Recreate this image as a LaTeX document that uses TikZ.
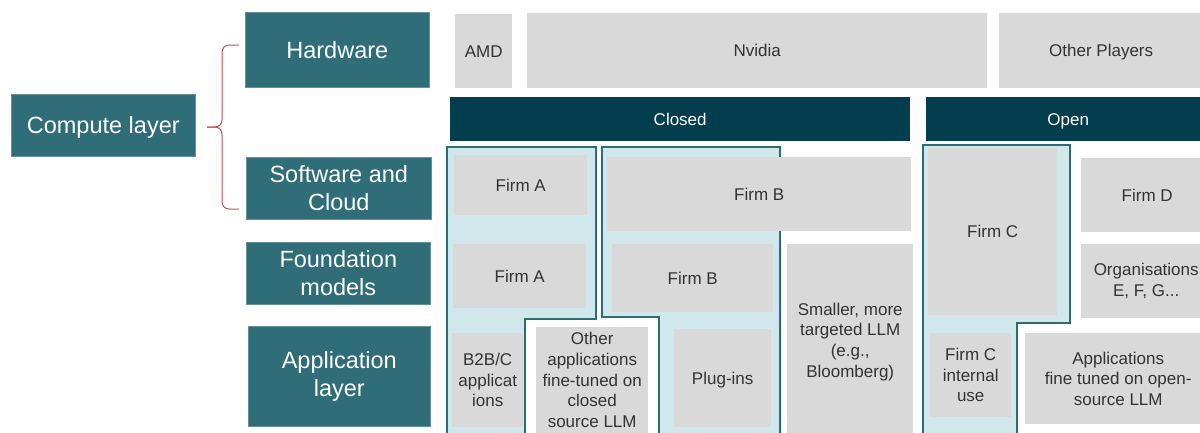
\documentclass[tikz,border=0pt]{standalone}
\usepackage{fontspec}
\setmainfont{Liberation Sans}
\definecolor{cteal}{HTML}{2F6E78}
\definecolor{cdark}{HTML}{023E4D}
\definecolor{cgray}{HTML}{D9D9D9}
\definecolor{clight}{HTML}{D0E8EC}
\definecolor{coutl}{HTML}{2E6B74}
\definecolor{cbrace}{HTML}{C0504D}
\definecolor{ctext}{HTML}{333333}
\begin{document}
\begin{tikzpicture}[x=1pt,y=-1pt,
  tealbox/.style={fill=cteal, draw=cteal!75!white, line width=0.6pt, text=white, inner sep=0pt, align=center, font=\fontsize{23.5}{27.5}\selectfont, anchor=north west},
  gbox/.style={fill=cgray, inner sep=0pt, align=center, text=ctext, font=\fontsize{17}{20.7}\selectfont, anchor=north west},
  barbox/.style={fill=cdark, text=white, inner sep=0pt, align=center, font=\fontsize{17}{20.5}\selectfont, anchor=north west},
  nodepth/.style={text depth=0pt},
  region/.style={fill=clight, draw=coutl, line width=2.4pt, line join=miter},
  bracepath/.style={draw=cbrace, line width=1pt, rounded corners=7pt}]
\useasboundingbox (0,0) rectangle (1200,432);
\clip (0,0) rectangle (1200,432);
% left labels
\node[tealbox, nodepth, minimum width=184, minimum height=62] (compute) at (11,94) {Compute layer};
\node[tealbox, minimum width=184, minimum height=75] (hw) at (245,12) {Hardware};
\node[tealbox, minimum width=185, minimum height=62] (sw) at (246,157) {Software and\\Cloud};
\node[tealbox, minimum width=184, minimum height=62] (fm) at (246,242) {Foundation\\models};
\node[tealbox, minimum width=182, minimum height=100] (app) at (248,326) {Application\\layer};
% brace
\draw[bracepath] (239,45) -- (222,45) -- (222,127) -- (207,127);
\draw[bracepath] (239,209) -- (222,209) -- (222,127) -- (207,127);
% hardware row
\node[gbox, minimum width=57, minimum height=74] (amd) at (455,14) {AMD};
\node[gbox, minimum width=460, minimum height=75] (nvidia) at (527,13) {Nvidia};
\node[gbox, nodepth, minimum width=204, minimum height=75] (other) at (999,13) {Other Players};
% closed / open bars
\node[barbox, minimum width=460, minimum height=44] (closed) at (450,97) {Closed};
\node[barbox, nodepth, minimum width=284, minimum height=44] (open) at (926,97) {Open};
% outlined regions
\draw[region] (447,147) -- (596,147) -- (596,319) -- (525,319) -- (525,445) -- (447,445) -- cycle;
\draw[region] (602,147) -- (780,147) -- (780,445) -- (659,445) -- (659,317) -- (602,317) -- cycle;
\draw[region] (923,145) -- (1070,145) -- (1070,323) -- (1017,323) -- (1017,445) -- (923,445) -- cycle;
% software & cloud row
\node[gbox, minimum width=133, minimum height=60] (firmA1) at (454,155) {Firm A};
\node[gbox, minimum width=304, minimum height=74] (firmB1) at (607,157) {Firm B};
\node[gbox, minimum width=129, minimum height=167] (firmC) at (928,148) {Firm C};
\node[gbox, minimum width=132, minimum height=74] (firmD) at (1081,158) {Firm D};
% foundation row
\node[gbox, minimum width=133, minimum height=64] (firmA2) at (453,244) {Firm A};
\node[gbox, minimum width=161, minimum height=68] (firmB2) at (612,244) {Firm B};
\node[gbox, minimum width=126, minimum height=195] (smaller) at (787,244) {Smaller, more\\targeted LLM\\(e.g.,\\Bloomberg)};
\node[gbox, minimum width=130, minimum height=74] (orgs) at (1081,244) {Organisations\\E, F, G...};
% application row
\node[gbox, minimum width=71, minimum height=94] (b2b) at (452,333) {B2B/C\\applicat\\ions};
\node[gbox, minimum width=112, minimum height=106] (otherapps) at (536,327) {Other\\applications\\fine-tuned on\\closed\\source LLM};
\node[gbox, nodepth, minimum width=97, minimum height=98] (plugins) at (674,329) {Plug-ins};
\node[gbox, minimum width=81, minimum height=84] (firmCint) at (930,333) {Firm C\\internal\\use};
\node[gbox, minimum width=186, minimum height=91] (appsopen) at (1025,333) {Applications\\fine tuned on open-\\source LLM};
\end{tikzpicture}
\end{document}
